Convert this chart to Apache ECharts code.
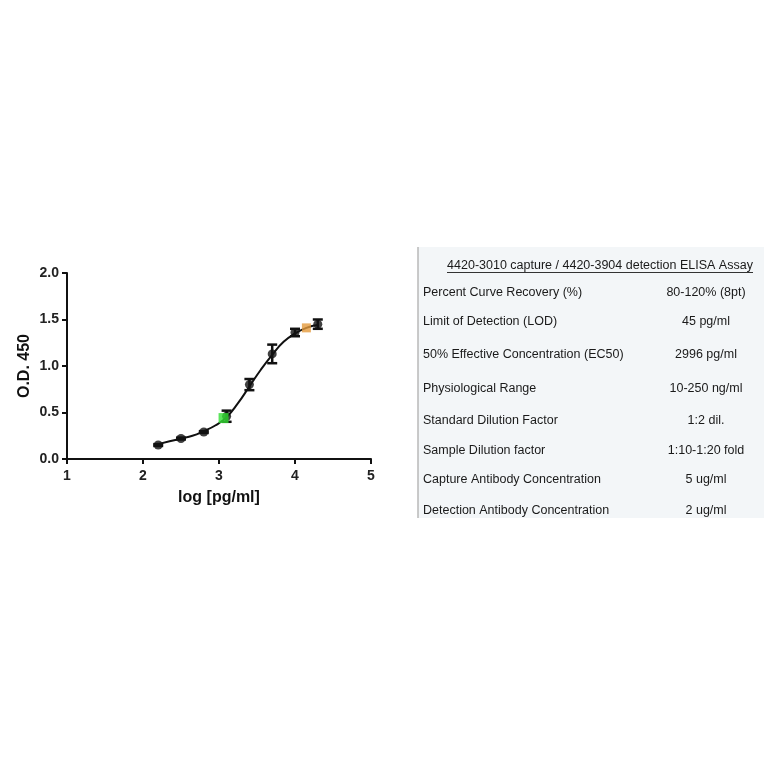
<!DOCTYPE html>
<html>
<head>
<meta charset="utf-8">
<script src="https://cdn.jsdelivr.net/npm/echarts@6/dist/echarts.min.js"></script>
<style>
  html, body { margin: 0; padding: 0; background: #fff; }
  #chart { width: 764px; height: 764px; }
</style>
</head>
<body>
<div id="chart"></div>
<script>
// standard curve data (log conc vs OD450)
const logConc = [2.2, 2.5, 2.8, 3.1, 3.4, 3.7, 4.0, 4.3];
const odMean = [0.15, 0.22, 0.29, 0.46, 0.80, 1.13, 1.36, 1.45];
const odErr = [0.01, 0.01, 0.01, 0.06, 0.06, 0.10, 0.04, 0.05];

// fitted curve
const fitX = [2.2, 2.35, 2.5, 2.65, 2.8, 2.95, 3.1, 3.25, 3.4, 3.55, 3.7, 3.85, 4.0, 4.15, 4.3];
const fitY = [0.16, 0.19, 0.22, 0.25, 0.30, 0.36, 0.45, 0.60, 0.78, 0.96, 1.12, 1.26, 1.35, 1.41, 1.44];

// highlighted samples
const greenPt = [3.06, 0.44];
const orangePt = [4.15, 1.41];

const xTicks = [1, 2, 3, 4, 5];
const yTicks = [0.0, 0.5, 1.0, 1.5, 2.0];

// assay table
const tableTitle = '4420-3010 capture / 4420-3904 detection ELISA Assay';
const rowLabels = ['Percent Curve Recovery (%)', 'Limit of Detection (LOD)', '50% Effective Concentration (EC50)',
    'Physiological Range', 'Standard Dilution Factor', 'Sample Dilution factor',
    'Capture Antibody Concentration', 'Detection Antibody Concentration'];
const rowValues = ['80-120% (8pt)', '45 pg/ml', '2996 pg/ml', '10-250 ng/ml', '1:2 dil.',
    '1:10-1:20 fold', '5 ug/ml', '2 ug/ml'];
const rowY = [293, 322, 355, 389, 421, 451, 480, 511];

const font = 'Liberation Sans, Arial, sans-serif';

const chart = echarts.init(document.getElementById('chart'));

const graphics = [
    { type: 'rect', shape: { x: 418, y: 247, width: 346, height: 271 }, style: { fill: '#f3f6f8' }, z: -1 },
    { type: 'line', shape: { x1: 418, y1: 247, x2: 418, y2: 518 }, style: { stroke: '#b8b8b8', lineWidth: 1.5 } },
    { type: 'text', x: 600, y: 266, style: { text: tableTitle, fill: '#1a1a1a', font: '12.5px ' + font, textAlign: 'center', textVerticalAlign: 'middle' } },
    { type: 'line', shape: { x1: 447, y1: 272.5, x2: 753, y2: 272.5 }, style: { stroke: '#333', lineWidth: 1 } }
];
rowLabels.forEach((t, i) => {
    graphics.push({ type: 'text', x: 423, y: rowY[i], style: { text: t, fill: '#1a1a1a', font: '12.5px ' + font, textVerticalAlign: 'middle' } });
    graphics.push({ type: 'text', x: 706, y: rowY[i], style: { text: rowValues[i], fill: '#1a1a1a', font: '12.5px ' + font, textAlign: 'center', textVerticalAlign: 'middle' } });
});

chart.setOption({
    animation: false,
    grid: { left: 67, right: 393, top: 273, bottom: 305 },
    xAxis: {
        type: 'value', min: 1, max: 5, interval: 1,
        name: 'log [pg/ml]', nameLocation: 'middle', nameGap: 31,
        nameTextStyle: { fontFamily: font, fontWeight: 'bold', fontSize: 16, color: '#111' },
        axisLine: { lineStyle: { color: '#111', width: 2 } },
        axisTick: { length: 5, lineStyle: { color: '#111', width: 2 } },
        axisLabel: { fontFamily: font, fontWeight: 'bold', fontSize: 14, color: '#222', margin: 10,
            formatter: v => xTicks.includes(v) ? String(v) : '' },
        splitLine: { show: false }
    },
    yAxis: {
        type: 'value', min: 0, max: 2, interval: 0.5,
        name: 'O.D. 450', nameLocation: 'middle', nameGap: 34, nameRotate: 90,
        nameTextStyle: { fontFamily: font, fontWeight: 'bold', fontSize: 16, color: '#111' },
        axisLine: { show: true, lineStyle: { color: '#111', width: 2 } },
        axisTick: { show: true, length: 5, lineStyle: { color: '#111', width: 2 } },
        axisLabel: { fontFamily: font, fontWeight: 'bold', fontSize: 14, color: '#222', margin: 8,
            formatter: v => yTicks.includes(v) ? v.toFixed(1) : '' },
        splitLine: { show: false }
    },
    graphic: graphics,
    series: [
        {
            type: 'line', smooth: true, symbol: 'none',
            data: fitX.map((x, i) => [x, fitY[i]]),
            lineStyle: { color: '#111', width: 2 }, z: 2
        },
        {
            type: 'custom', z: 3,
            data: logConc.map((x, i) => [x, odMean[i] - odErr[i], odMean[i] + odErr[i]]),
            renderItem: (params, api) => {
                const lo = api.coord([api.value(0), api.value(1)]);
                const hi = api.coord([api.value(0), api.value(2)]);
                const w = 5;
                const st = { stroke: '#111', lineWidth: 2.5 };
                return {
                    type: 'group', children: [
                        { type: 'line', shape: { x1: lo[0], y1: lo[1], x2: hi[0], y2: hi[1] }, style: st },
                        { type: 'line', shape: { x1: lo[0] - w, y1: lo[1], x2: lo[0] + w, y2: lo[1] }, style: st },
                        { type: 'line', shape: { x1: hi[0] - w, y1: hi[1], x2: hi[0] + w, y2: hi[1] }, style: st }
                    ]
                };
            }
        },
        {
            type: 'scatter', symbol: 'circle', symbolSize: 9, z: 4,
            data: logConc.map((x, i) => [x, odMean[i]]),
            itemStyle: { color: '#111' }
        },
        {
            type: 'scatter', symbol: 'rect', symbolSize: 10, z: 5,
            data: [greenPt], itemStyle: { color: '#33dd33' }
        },
        {
            type: 'scatter', symbol: 'rect', symbolSize: 9, z: 5,
            data: [orangePt], itemStyle: { color: '#e39a3c' }
        }
    ]
});
</script>
</body>
</html>
